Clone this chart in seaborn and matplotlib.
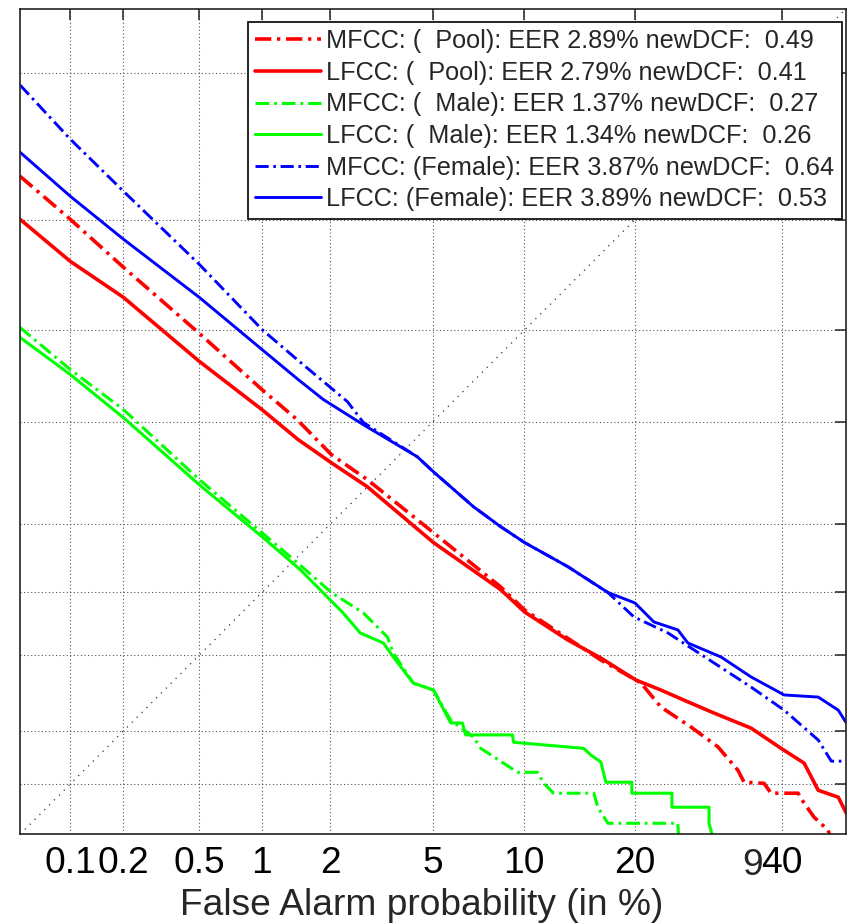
import numpy as np
import pandas as pd
import matplotlib
matplotlib.use("Agg")
import matplotlib.pyplot as plt
import seaborn as sns
from statistics import NormalDist

# ---------------- data (False alarm %, Miss %) ----------------
labels = [
    "MFCC: (  Pool): EER 2.89% newDCF:  0.49",
    "LFCC: (  Pool): EER 2.79% newDCF:  0.41",
    "MFCC: (  Male): EER 1.37% newDCF:  0.27",
    "LFCC: (  Male): EER 1.34% newDCF:  0.26",
    "MFCC: (Female): EER 3.87% newDCF:  0.64",
    "LFCC: (Female): EER 3.89% newDCF:  0.53",
]

fa_mfcc_pool = [0.05, 0.1, 0.2, 0.5, 1.0, 1.44, 2.02, 2.83, 5.02, 8.46, 10.03, 16.46,
                20.73, 23.08, 26.87, 30.54, 33.39, 34.27, 37.24, 38.31, 42.48, 43.42,
                45.0, 47.22, 47.71]
miss_mfcc_pool = [25.25, 20.09, 15.15, 9.79, 6.46, 5.08, 3.78, 3.03, 1.84, 1.06, 0.829, 0.472,
                  0.360, 0.269, 0.210, 0.163, 0.120, 0.1025, 0.101, 0.0884, 0.0884, 0.0771,
                  0.0635, 0.0529, 0.045]

fa_lfcc_pool = [0.05, 0.1, 0.2, 0.5, 1.0, 1.455, 2.02, 2.83, 5.02, 8.46, 10.03, 13.40,
                16.46, 20.16, 23.08, 25.95, 29.98, 35.31, 39.84, 43.42, 45.64, 48.82, 50.1]
miss_lfcc_pool = [20.09, 15.72, 12.51, 8.00, 5.51, 4.30, 3.52, 2.84, 1.67, 1.03, 0.811, 0.594,
                  0.483, 0.373, 0.331, 0.293, 0.250, 0.207, 0.160, 0.132, 0.092, 0.0837, 0.0672]

fa_mfcc_male = [0.05, 0.1, 0.2, 0.5, 1.0, 1.485, 2.02, 2.73, 3.39, 3.57, 4.24, 5.02, 5.77,
                6.90, 7.29, 9.55, 10.97, 11.44, 12.22, 15.77, 16.16, 17.16, 25.18, 25.31]
miss_mfcc_male = [10.21, 7.53, 5.51, 3.03, 1.84, 1.33, 1.00, 0.802, 0.614, 0.512, 0.360, 0.331,
                  0.229, 0.185, 0.160, 0.117, 0.117, 0.101, 0.0884, 0.0884, 0.0730, 0.0584,
                  0.0584, 0.045]

fa_lfcc_male = [0.05, 0.1, 0.2, 0.5, 1.0, 1.485, 2.26, 2.65, 3.27, 3.57, 4.24, 5.02, 5.77,
                6.33, 6.49, 9.21, 9.28, 14.83, 15.47, 16.46, 16.96, 19.70, 19.70, 24.43,
                24.43, 29.30, 29.30, 29.98]
miss_lfcc_male = [9.52, 7.25, 5.16, 2.89, 1.77, 1.27, 0.802, 0.643, 0.574, 0.489, 0.360, 0.331,
                  0.221, 0.221, 0.190, 0.190, 0.173, 0.160, 0.147, 0.134, 0.1025, 0.1025,
                  0.0884, 0.0884, 0.0730, 0.0730, 0.0584, 0.045]

fa_mfcc_female = [0.05, 0.1, 0.2, 0.5, 1.0, 1.44, 2.35, 2.73, 4.39, 5.02, 6.90, 8.46, 10.03,
                  13.40, 17.16, 19.93, 23.93, 35.31, 40.31, 45.64, 47.71, 50.1]
miss_mfcc_female = [38.09, 30.19, 23.37, 15.43, 10.07, 8.11, 5.88, 4.96, 3.71, 3.25, 2.36, 1.95,
                    1.67, 1.31, 1.00, 0.768, 0.643, 0.343, 0.259, 0.178, 0.1355, 0.1355]

fa_lfcc_female = [0.05, 0.1, 0.2, 0.5, 1.0, 1.455, 1.87, 2.73, 4.39, 5.02, 6.90, 8.46, 10.03,
                  13.40, 17.16, 20.05, 22.22, 25.18, 26.47, 30.96, 35.31, 40.31, 45.64, 48.82,
                  50.1]
miss_lfcc_female = [28.40, 22.77, 17.93, 12.51, 8.73, 6.98, 5.97, 4.87, 3.71, 3.25, 2.36, 1.95,
                    1.67, 1.31, 1.00, 0.894, 0.727, 0.665, 0.574, 0.489, 0.387, 0.312, 0.304,
                    0.259, 0.221]

tick_values = [0.1, 0.2, 0.5, 1, 2, 5, 10, 20, 40]
tick_labels = ["0.1", "0.2", "0.5", "1", "2", "5", "10", "20", "40"]
axis_limits = [0.05, 50]
x_label = "False Alarm probability (in %)"

series = [
    (fa_mfcc_pool, miss_mfcc_pool), (fa_lfcc_pool, miss_lfcc_pool),
    (fa_mfcc_male, miss_mfcc_male), (fa_lfcc_male, miss_lfcc_male),
    (fa_mfcc_female, miss_mfcc_female), (fa_lfcc_female, miss_lfcc_female),
]
colors = ["#ff0000", "#ff0000", "#00ff00", "#00ff00", "#0000ff", "#0000ff"]
dashdot = (0, (4.5, 1.6, 0.9, 1.6))
styles = [dashdot, "-", dashdot, "-", dashdot, "-"]
widths = [2.6, 2.6, 2.2, 2.2, 2.1, 2.1]

# ---------------- probit scale ----------------
_nd = NormalDist()


def _ppf(v):
    if not (v == v):
        return np.nan
    v = min(max(v, 1e-9), 1 - 1e-9)
    return _nd.inv_cdf(v)


def probit(p):
    p = np.asarray(p, dtype=float)
    return np.vectorize(_ppf, otypes=[float])(p / 100.0)


def inv_probit(z):
    z = np.asarray(z, dtype=float)
    return np.vectorize(lambda t: _nd.cdf(t) if t == t else np.nan, otypes=[float])(z) * 100.0


# ---------------- figure ----------------
sns.set_theme(style="white")
plt.rcParams["font.family"] = ["Liberation Sans", "DejaVu Sans"]

fig = plt.figure(figsize=(8.51, 9.24), dpi=100)
ax = fig.add_axes([20 / 851, 1 - 834.3 / 924, 825.7 / 851, 825.3 / 924])
ax.set_xscale("function", functions=(probit, inv_probit))
ax.set_yscale("function", functions=(probit, inv_probit))

for (fa, miss), lab, col, ls, lw in zip(series, labels, colors, styles, widths):
    df = pd.DataFrame({"fa": fa, "miss": miss})
    sns.lineplot(data=df, x="fa", y="miss", ax=ax, sort=False, estimator=None,
                 color=col, linestyle=ls, linewidth=lw, label=lab)

# diagonal
ax.plot(axis_limits, axis_limits, color="#333333", lw=0.9, linestyle=(0, (1, 4.5)), zorder=0.5)

ax.set_xlim(axis_limits)
ax.set_ylim(axis_limits)
ax.set_xticks(tick_values)
ax.set_xticklabels(tick_labels)
ax.set_yticks(tick_values)
ax.set_yticklabels([])
ax.minorticks_off()

ax.grid(True, color="#555555", linestyle=(0, (1, 2.2)), linewidth=0.8)
ax.tick_params(direction="in", length=8, width=1.1, top=True, right=True,
               labelsize=26.7, pad=8.5, colors="#222222", labelcolor="black")
for s in ax.spines.values():
    s.set_color("#222222")
    s.set_linewidth(1.2)
    s.set_visible(True)

ax.set_ylabel("")
ax.set_xlabel(x_label, fontsize=26.7, labelpad=5, x=0.486)

# partially visible extra tick glyph next to "40"
ax.annotate("9", xy=(35.5, 0), xycoords=("data", "axes fraction"),
            xytext=(0, -10), textcoords="offset points", ha="center", va="top",
            fontsize=26.7)

leg = ax.legend(loc="upper right", bbox_to_anchor=(0.995, 0.9846), borderaxespad=0,
                fontsize=18.2, handlelength=2.6, handletextpad=0.2, labelspacing=0.3,
                borderpad=0.3, frameon=True, fancybox=False, edgecolor="black",
                framealpha=1, facecolor="white")
leg.get_frame().set_linewidth(1.2)
leg.set_zorder(5)

fig.savefig("out.png", dpi=100)
